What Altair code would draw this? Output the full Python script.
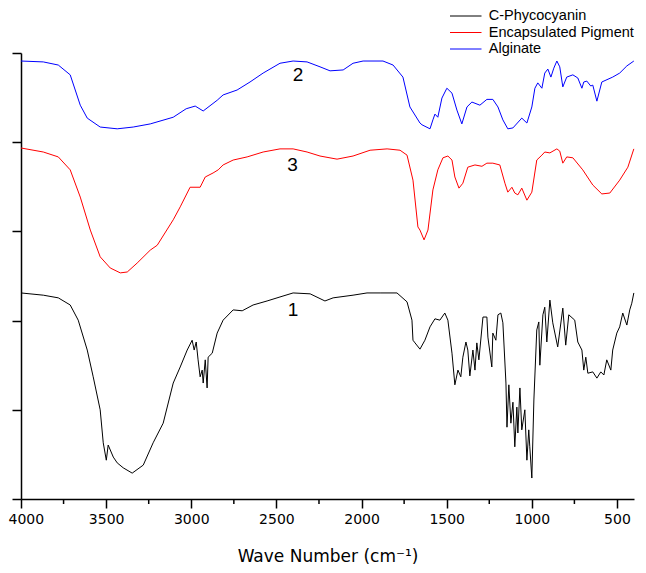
import altair as alt
import pandas as pd

# ---- data (wavenumber in cm-1, transmittance in arbitrary %) ----
series_names = ["C-Phycocyanin", "Encapsulated Pigment", "Alginate"]
series_colors = ["#000000", "#ff0000", "#0000ff"]

black_wn = [4000, 3869, 3781, 3711, 3664, 3611, 3576, 3535, 3517, 3499,
            3488, 3458, 3435, 3400, 3347, 3282, 3224, 3165, 3106, 3065,
            3024, 2995, 2983, 2971, 2960, 2948, 2936, 2930, 2918, 2907,
            2901, 2877, 2848, 2813, 2754, 2701, 2637, 2555, 2479, 2402,
            2302, 2215, 2167, 2050, 1968, 1891, 1792, 1733, 1704, 1698,
            1686, 1657, 1628, 1598, 1569, 1540, 1511, 1493, 1469, 1452,
            1434, 1417, 1405, 1387, 1376, 1364, 1346, 1334, 1323, 1311,
            1287, 1264, 1258, 1235, 1229, 1211, 1199, 1182, 1170, 1152,
            1146, 1135, 1123, 1111, 1100, 1088, 1082, 1070, 1059, 1041,
            1029, 1018, 1012, 1000, 988, 971, 959, 953, 935, 924,
            912, 894, 877, 848, 818, 801, 783, 748, 730, 706,
            695, 683, 671, 642, 618, 595, 577, 560, 536, 525,
            501, 484, 466, 442, 425, 413, 401]
black_t = [46.2, 45.7, 45.1, 43.5, 40.1, 33.4, 27.4, 20.0, 12.6, 8.7,
           12.1, 9.4, 8.1, 7.0, 5.8, 7.6, 12.6, 17.0, 26.0, 29.6,
           33.4, 35.6, 33.4, 35.2, 31.2, 27.4, 28.9, 26.0, 31.2, 24.9,
           31.8, 32.7, 37.2, 40.1, 42.4, 42.2, 43.5, 44.4, 45.3, 46.2,
           46.0, 44.4, 45.1, 45.7, 46.2, 46.2, 46.2, 44.2, 40.1, 35.6,
           35.0, 33.6, 35.6, 38.6, 40.4, 40.1, 41.7, 40.1, 32.7, 25.6,
           28.9, 27.4, 31.8, 35.2, 33.4, 27.6, 33.4, 28.9, 35.0, 31.2,
           40.8, 40.8, 36.3, 29.6, 37.2, 35.6, 41.3, 41.7, 39.5, 26.0,
           16.1, 25.6, 17.0, 21.7, 11.7, 20.6, 14.8, 24.9, 15.5, 20.0,
           8.7, 15.5, 11.7, 4.7, 22.2, 37.9, 39.7, 30.0, 41.3, 43.0,
           35.2, 44.6, 39.5, 34.1, 42.8, 34.5, 41.3, 40.1, 35.2, 33.4,
           28.9, 31.8, 28.2, 28.5, 27.1, 28.5, 27.8, 31.2, 28.9, 33.4,
           37.2, 38.6, 41.7, 39.0, 42.4, 43.9, 46.2]

red_wn = [4000, 3869, 3781, 3711, 3652, 3593, 3535, 3476, 3417, 3376,
          3318, 3241, 3200, 3106, 3065, 3007, 2948, 2918, 2872, 2842,
          2813, 2754, 2672, 2578, 2479, 2402, 2320, 2244, 2144, 2050,
          1950, 1850, 1774, 1733, 1698, 1669, 1657, 1633, 1610, 1581,
          1552, 1522, 1493, 1469, 1452, 1428, 1405, 1376, 1334, 1293,
          1264, 1229, 1188, 1158, 1141, 1117, 1100, 1082, 1059, 1029,
          1000, 971, 941, 924, 894, 853, 836, 818, 795, 759,
          701, 642, 589, 542, 484, 436, 401]
red_t = [78.7, 77.8, 76.7, 73.8, 67.7, 60.3, 54.3, 51.8, 50.7, 50.9,
         52.9, 55.8, 56.9, 62.6, 65.5, 69.9, 69.9, 72.2, 73.1, 73.8,
         74.9, 76.0, 76.7, 77.8, 78.5, 78.5, 77.8, 76.9, 76.2, 76.9,
         78.2, 78.5, 78.2, 77.1, 71.5, 61.0, 60.3, 58.1, 60.3, 69.3,
         73.8, 76.5, 76.9, 76.0, 72.2, 69.7, 70.8, 74.4, 74.9, 74.6,
         75.3, 75.3, 74.9, 70.8, 68.8, 69.9, 68.6, 68.2, 69.7, 67.0,
         68.8, 76.0, 77.1, 77.8, 77.6, 78.5, 78.0, 75.3, 76.7, 76.5,
         73.8, 70.4, 68.4, 68.6, 71.5, 74.4, 78.5]

blue_wn = [4000, 3869, 3781, 3711, 3652, 3611, 3535, 3435, 3341, 3241,
           3106, 3030, 2977, 2930, 2848, 2813, 2731, 2655, 2578, 2479,
           2402, 2320, 2244, 2185, 2108, 2050, 1991, 1874, 1815, 1757,
           1716, 1657, 1645, 1598, 1581, 1569, 1552, 1528, 1499, 1469,
           1440, 1411, 1381, 1352, 1305, 1264, 1229, 1199, 1170, 1141,
           1111, 1059, 1029, 1000, 982, 965, 941, 924, 906, 888,
           871, 853, 836, 818, 795, 759, 730, 706, 695, 677,
           654, 642, 618, 589, 525, 484, 442, 401]
blue_t = [98.2, 98.0, 97.3, 95.1, 88.3, 85.4, 83.4, 83.0, 83.4, 84.1,
          85.6, 87.5, 88.1, 87.0, 89.4, 90.6, 91.7, 93.5, 95.5, 97.7,
          98.2, 98.0, 96.9, 96.0, 96.2, 97.7, 98.2, 98.2, 97.3, 94.6,
          87.9, 84.3, 83.9, 83.0, 85.0, 86.3, 85.6, 89.9, 92.1, 91.0,
          87.2, 84.1, 87.9, 89.0, 88.3, 89.6, 89.6, 87.9, 85.0, 83.0,
          83.2, 85.4, 84.3, 87.9, 92.1, 93.3, 92.1, 95.5, 96.4, 94.6,
          96.6, 98.2, 96.9, 92.4, 94.6, 95.1, 94.4, 92.1, 93.5, 93.7,
          92.6, 92.8, 89.2, 93.5, 94.6, 95.5, 97.1, 98.2]

label_text = ["2", "3", "1"]
label_wn = [2373, 2406, 2403]
label_t = [95.1, 74.8, 42.3]

major_ticks = [4000, 3500, 3000, 2500, 2000, 1500, 1000, 500]
minor_ticks = [3750, 3250, 2750, 2250, 1750, 1250, 750]
y_ticks = [0, 20, 40, 60, 80, 100]

# ---- tables ----
rows = []
for name, wns, ts in [(series_names[0], black_wn, black_t),
                      (series_names[1], red_wn, red_t),
                      (series_names[2], blue_wn, blue_t)]:
    for w, v in zip(wns, ts):
        rows.append({"series": name, "wn": w, "T": v})
df = pd.DataFrame(rows)
labels_df = pd.DataFrame({"wn": label_wn, "T": label_t, "label": label_text})
minor_df = pd.DataFrame({"wn": minor_ticks})

x_scale = alt.Scale(domain=[400, 4000], reverse=True, nice=False, zero=False)
y_scale = alt.Scale(domain=[0, 100], nice=False, zero=False)

lines = alt.Chart(df).mark_line(strokeWidth=1).encode(
    x=alt.X("wn:Q", scale=x_scale,
            axis=alt.Axis(values=major_ticks, title="Wave Number (cm⁻¹)",
                          format="d", tickSize=9, labelPadding=4,
                          labelFont="DejaVu Sans", labelFontSize=14,
                          labelFlush=True, labelFlushOffset=13,
                          labelOverlap=False,
                          titleFont="DejaVu Sans", titleFontSize=17,
                          titleFontWeight="normal", titlePadding=22,
                          grid=False)),
    y=alt.Y("T:Q", scale=y_scale,
            axis=alt.Axis(values=y_ticks, labels=False, title=None,
                          tickSize=9, grid=False)),
    color=alt.Color("series:N",
                    scale=alt.Scale(domain=series_names, range=series_colors),
                    legend=alt.Legend(orient="none", legendX=429, legendY=-45,
                                      title=None, padding=0,
                                      symbolType="M-2.1,0L2.1,0", symbolSize=225,
                                      symbolStrokeWidth=1, symbolOffset=7.75,
                                      labelOffset=15, labelFont="Liberation Sans",
                                      labelFontSize=14.5, labelColor="black",
                                      labelLimit=0, rowPadding=1.5)),
)

minor = alt.Chart(minor_df).mark_rule(color="black", strokeWidth=1.5).encode(
    x=alt.X("wn:Q", scale=x_scale),
    y=alt.value(446),
    y2=alt.value(451),
)

texts = alt.Chart(labels_df).mark_text(font="Liberation Sans", fontSize=19,
                                       align="center", baseline="middle",
                                       color="black").encode(
    x=alt.X("wn:Q", scale=x_scale),
    y=alt.Y("T:Q", scale=y_scale),
    text="label:N",
)

chart = alt.layer(lines, minor, texts).properties(
    width=613, height=446,
    autosize=alt.AutoSizeParams(type="none"),
    padding={"left": 13, "top": 45, "right": 4, "bottom": 66},
).configure_view(stroke=None).configure_axis(
    domainColor="black", tickColor="black", domainWidth=1.5, tickWidth=1.5,
    labelColor="black", titleColor="black",
)

chart.save("out.html", embed_options={"renderer": "svg", "actions": False})
